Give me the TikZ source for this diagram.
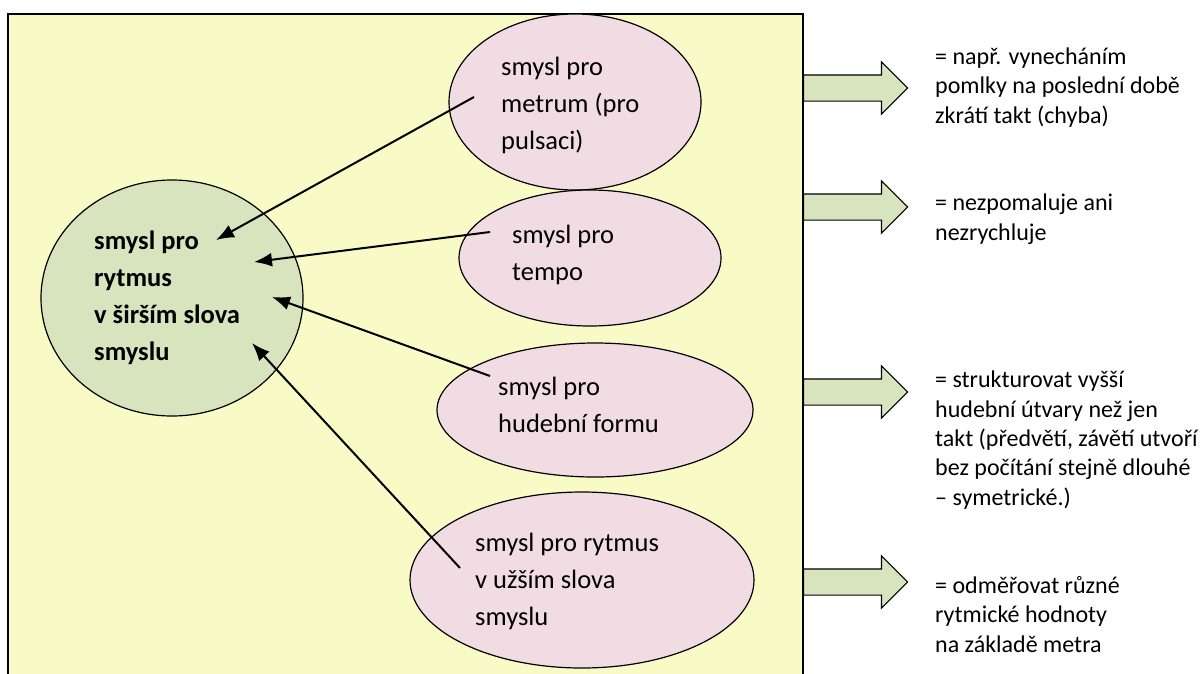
\documentclass[tikz,border=0pt]{standalone}
\usepackage{fontspec}
\setmainfont{Carlito}
\usetikzlibrary{shapes.geometric, shapes.arrows, arrows.meta}

\definecolor{paleyellow}{HTML}{F9FBC6}
\definecolor{olivelight}{HTML}{D7E4BD}
\definecolor{rosepink}{HTML}{F2DCE3}

\begin{document}
\begin{tikzpicture}[x=1pt, y=-1pt]
    % Setup the styles
    \tikzset{bubble/.style={ellipse, draw, line width=1.2pt, inner sep=0pt},
             sense/.style={bubble, fill=rosepink},
             bubbletext/.style={anchor=base west, inner sep=0pt, align=left,
                                font=\fontsize{26.5}{37}\selectfont},
             explain/.style={anchor=base west, inner sep=0pt, align=left,
                             font=\fontsize{24}{29.3}\selectfont},
             pointer/.style={line width=2pt, -{Latex[length=18pt, width=14pt]}},
             fat arrow/.style={single arrow, draw, line width=1.2pt,
                               fill=olivelight, inner sep=0pt,
                               text height=25pt, text depth=0pt,
                               minimum height=104pt,
                               single arrow head extend=13pt,
                               anchor=tail}}

    \clip (0,0) rectangle (1204,673);

    % The frame
    \draw[fill=paleyellow, line width=1.5pt] (8,14) rectangle (803,690);

    % Draw the ellipses
    \node[bubble, fill=olivelight, minimum width=262pt, minimum height=236pt]
        at (172,298) (rytmus) {};
    \node[sense, minimum width=252pt, minimum height=176pt] at (575,102) (metrum) {};
    \node[sense, minimum width=262pt, minimum height=136pt] at (590,258) (tempo) {};
    \node[sense, minimum width=316pt, minimum height=134pt] at (595,410) (forma) {};
    \node[sense, minimum width=344pt, minimum height=176pt] at (582,580) (uzsi) {};

    % Texts inside the ellipses (placed by their last line)
    \node[bubbletext, font=\fontsize{26.5}{37}\selectfont\bfseries] at (94,360) (rytmus text)
        {smysl pro\\rytmus\\v širším slova\\smyslu};
    \node[bubbletext] at (501,149) (metrum text) {smysl pro\\metrum (pro\\pulsaci)};
    \node[bubbletext] at (512,280) (tempo text)  {smysl pro\\tempo};
    \node[bubbletext] at (498,432) (forma text)  {smysl pro\\hudební formu};
    \node[bubbletext] at (475,625) (uzsi text)   {smysl pro rytmus\\v užším slova\\smyslu};

    % Arrow ends
    \coordinate (metrum from) at (474,97);
    \coordinate (metrum to)   at (216,240);
    \coordinate (tempo from)  at (490,232);
    \coordinate (tempo to)    at (254,262);
    \coordinate (forma from)  at (490,376);
    \coordinate (forma to)    at (272,297);
    \coordinate (uzsi from)   at (460,568);
    \coordinate (uzsi to)     at (252,343);

    % Connect the ellipses with arrows
    \draw[pointer] (metrum from) -- (metrum to);
    \draw[pointer] (tempo from)  -- (tempo to);
    \draw[pointer] (forma from)  -- (forma to);
    \draw[pointer] (uzsi from)   -- (uzsi to);

    % Block arrows to the notes
    \node[fat arrow] at (803,88)  (arrow metrum) {};
    \node[fat arrow] at (803,207) (arrow tempo)  {};
    \node[fat arrow] at (803,392) (arrow forma)  {};
    \node[fat arrow] at (803,582) (arrow uzsi)   {};

    % The notes (placed by their last line)
    \node[explain] at (935,123) (note metrum)
        {= např. vynecháním\\pomlky na poslední době\\zkrátí takt (chyba)};
    \node[explain] at (935,240) (note tempo)
        {= nezpomaluje ani\\nezrychluje};
    \node[explain] at (935,505) (note forma)
        {= strukturovat vyšší\\hudební útvary než jen\\takt (předvětí, závětí utvoří\\bez počítání stejně dlouhé\\– symetrické.)};
    \node[explain] at (935,652) (note uzsi)
        {= odměřovat různé\\rytmické hodnoty\\na základě metra};
\end{tikzpicture}
\end{document}
